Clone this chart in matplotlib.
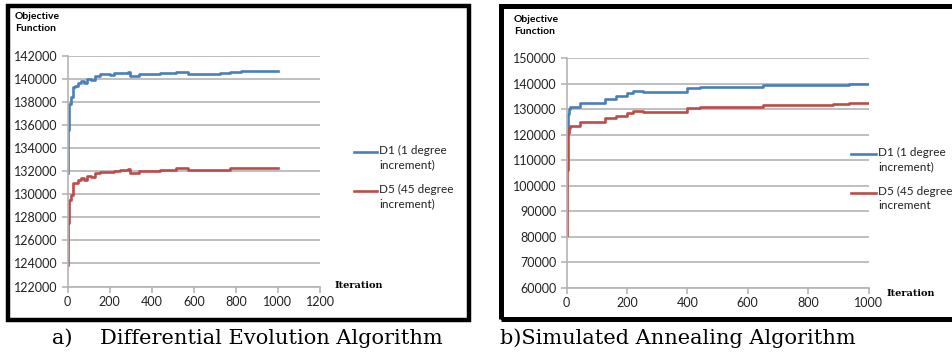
import matplotlib.pyplot as plt
from matplotlib.patches import Rectangle

# a) Differential Evolution
de_iter = [0, 3, 8, 15, 25, 35, 50, 66, 80, 95, 110, 130, 154, 200, 220, 250, 288, 296, 340, 438, 518, 573, 723, 770, 826, 1000]
de_d1 = [131800, 135550, 137850, 138400, 139300, 139400, 139600, 139800, 139600, 140000, 139900, 140200, 140400, 140350, 140500, 140500, 140600, 140200, 140450, 140500, 140600, 140450, 140500, 140600, 140650, 140650]
de_d5 = [123900, 127500, 129500, 129950, 130950, 131000, 131200, 131380, 131240, 131600, 131500, 131800, 131900, 131900, 132050, 132100, 132200, 131850, 132050, 132100, 132250, 132100, 132100, 132250, 132300, 132300]

# b) Simulated Annealing
sa_iter = [0, 2, 4, 7, 11, 44, 127, 165, 199, 221, 254, 400, 442, 652, 750, 884, 934, 1000]
sa_d1 = [112000, 121000, 128000, 130000, 130700, 132500, 133800, 135100, 136200, 137000, 136700, 138200, 138700, 139500, 139300, 139500, 140000, 140000]
sa_d5 = [80600, 106100, 120500, 122400, 123500, 125000, 126300, 127400, 128300, 129200, 129000, 130500, 130900, 131700, 131400, 131900, 132300, 132300]

labels_a = ['D1 (1 degree\nincrement)', 'D5 (45 degree\nincrement)']
labels_b = ['D1 (1 degree\nincrement)', 'D5 (45 degree\nincrement']

BLUE = '#4a7ebb'
RED = '#be4b48'
GRID = '#b4b4b4'

fig = plt.figure(figsize=(9.52, 3.55), dpi=100)


def panel(rect, x, y1, y2, xlim, xticks, ylim, yticks, labels, leg_x, iter_xy):
    ax = fig.add_axes(rect)
    ax.plot(x, y1, color=BLUE, lw=1.9, drawstyle='steps-post')
    ax.plot(x, y2, color=RED, lw=1.9, drawstyle='steps-post')
    ax.set_xlim(*xlim)
    ax.set_ylim(*ylim)
    ax.set_xticks(xticks)
    ax.set_yticks(yticks)
    ax.yaxis.grid(True, color=GRID, lw=1.2)
    ax.set_axisbelow(True)
    for s in ['top', 'right']:
        ax.spines[s].set_visible(False)
    for s in ['left', 'bottom']:
        ax.spines[s].set_color(GRID)
        ax.spines[s].set_linewidth(1.2)
    ax.tick_params(length=4, width=1.2, color=GRID, labelsize=9, labelcolor='#222222', pad=3)
    for t in ax.get_xticklabels() + ax.get_yticklabels():
        t.set_family('Lato')

    # legend drawn by hand as line + text
    lx0, lx1, ly = leg_x
    for i, (lab, col) in enumerate(zip(labels, [BLUE, RED])):
        yy = ly + i * 39
        fig.add_artist(plt.Line2D([lx0 / 952, lx1 / 952], [1 - yy / 355] * 2, color=col, lw=1.9))
        fig.text((lx1 + 2) / 952, 1 - (yy - 7) / 355, lab, fontsize=8.5, family='Lato',
                 va='top', ha='left', linespacing=1.35, color='#222222')
    fig.text(iter_xy[0] / 952, 1 - iter_xy[1] / 355, 'Iteration', fontsize=7,
             family='DejaVu Serif', weight='bold', va='center', ha='left')
    return ax


panel([67.5 / 952, 1 - 286.5 / 355, 252.5 / 952, 230.8 / 355],
      de_iter, de_d1, de_d5, (0, 1200), range(0, 1201, 200),
      (122000, 142000), range(122000, 142001, 2000), labels_a,
      (354, 377, 152), (335, 285))
fig.text(15 / 952, 1 - 12 / 355, 'Objective\nFunction', fontsize=7.5, weight='bold',
         family='Lato', va='top', ha='left', linespacing=1.45)

panel([566.5 / 952, 1 - 287.7 / 355, 302 / 952, 229.7 / 355],
      sa_iter, sa_d1, sa_d5, (0, 1000), range(0, 1001, 200),
      (60000, 150000), range(60000, 150001, 10000), labels_b,
      (850.5, 876, 154), (887, 293))
fig.text(514 / 952, 1 - 15 / 355, 'Objective\nFunction', fontsize=7.5, weight='bold',
         family='Lato', va='top', ha='left', linespacing=1.45)

# black frames around each chart
fig.add_artist(Rectangle((8 / 952, 1 - 320 / 355), 461 / 952, 314 / 355,
                         transform=fig.transFigure, fill=False, ec='black', lw=3.2))
fig.add_artist(Rectangle((501 / 952, 1 - 319 / 355), 470 / 952, 313 / 355,
                         transform=fig.transFigure, fill=False, ec='black', lw=3.6))

# captions
fig.text(52 / 952, 1 - 338 / 355, 'a)', fontsize=15, family='DejaVu Serif', va='center', ha='left')
fig.text(100 / 952, 1 - 338 / 355, 'Differential Evolution Algorithm', fontsize=15,
         family='DejaVu Serif', va='center', ha='left')
fig.text(500 / 952, 1 - 338 / 355, 'b)Simulated Annealing Algorithm', fontsize=15,
         family='DejaVu Serif', va='center', ha='left')

fig.savefig('out.png', dpi=100)
